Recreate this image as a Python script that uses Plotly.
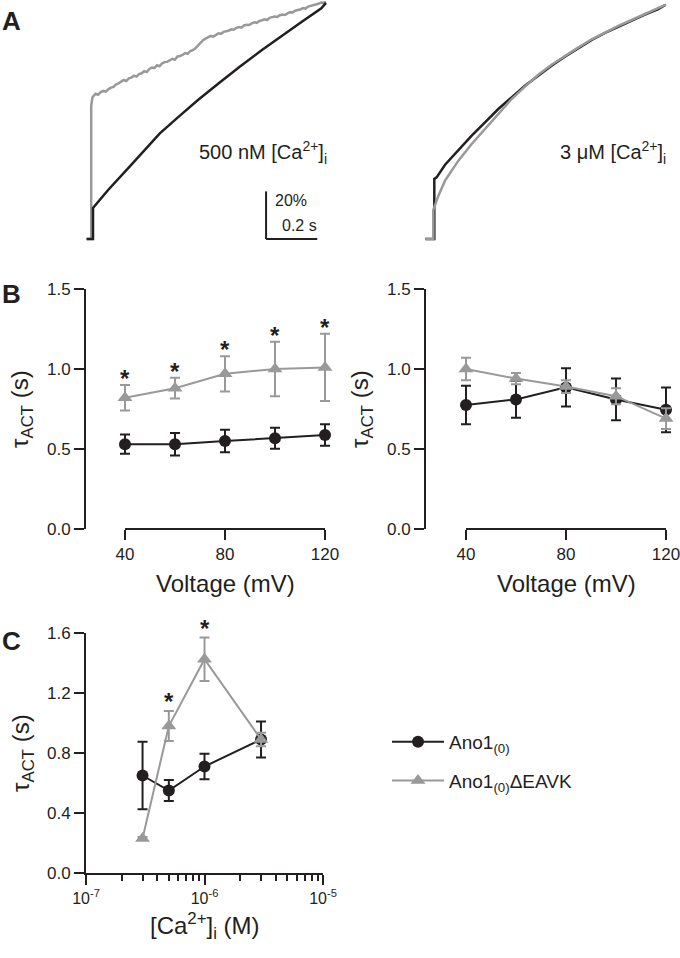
import math
import plotly.graph_objects as go

W, H = 680, 958
BLACK = "#231f20"
GRAY = "#999999"
FONT = "Arial, Liberation Sans, Helvetica, sans-serif"

# ---------------- Panel A: normalized current traces (time in s, current in %) -------------
a500_ano1_t = [-0.025, 0.0, 0.0, 0.059, 0.143, 0.20, 0.261, 0.335, 0.41, 0.49, 0.573,
               0.66, 0.749, 0.82, 0.892, 0.91]
a500_ano1_i = [0, 0, 13.0, 20.6, 30.4, 37.1, 44.4, 51.4, 58.4, 65.3, 72.4,
               79.4, 86.4, 91.6, 96.9, 99.2]

a500_eavk_t = [-0.025, -0.007, -0.007, -0.005, -0.002,
               0.00, 0.01, 0.02, 0.03, 0.04, 0.05, 0.06, 0.07, 0.08, 0.09,
               0.10, 0.11, 0.12, 0.13, 0.14, 0.15, 0.16, 0.17, 0.18, 0.19,
               0.20, 0.21, 0.22, 0.23, 0.24, 0.25, 0.26, 0.27, 0.28, 0.29,
               0.30, 0.31, 0.32, 0.33, 0.34, 0.35, 0.36, 0.37, 0.38, 0.39,
               0.40, 0.41, 0.42, 0.43, 0.44, 0.45, 0.46, 0.47, 0.48, 0.49,
               0.50, 0.51, 0.52, 0.53, 0.54, 0.55, 0.56, 0.57, 0.58, 0.59,
               0.60, 0.61, 0.62, 0.63, 0.64, 0.65, 0.66, 0.67, 0.68, 0.69,
               0.70, 0.71, 0.72, 0.73, 0.74, 0.75, 0.76, 0.77, 0.78, 0.79,
               0.80, 0.81, 0.82, 0.83, 0.84, 0.85, 0.86, 0.87, 0.88, 0.89, 0.90, 0.91]
a500_eavk_i = [0, 0, 56.0, 58.7, 59.5,
               59.8, 61.0, 60.6, 61.7, 62.2, 61.9, 62.9, 63.6, 63.9, 65.0,
               65.4, 66.0, 66.8, 66.4, 67.5, 67.8, 68.6, 68.2, 69.3, 69.6,
               70.5, 70.1, 71.4, 72.0, 71.8, 73.0, 72.6, 73.8, 74.3, 74.4,
               75.0, 75.7, 75.3, 76.7, 76.9, 77.3, 78.1, 77.8, 78.9, 79.3,
               80.1, 81.2, 82.6, 83.5, 84.2, 84.6, 85.3, 85.0, 85.9, 86.4,
               86.2, 87.0, 87.3, 87.5, 88.1, 87.9, 88.7, 89.0, 88.8, 89.7,
               90.0, 89.9, 90.6, 91.0, 90.8, 91.6, 91.9, 92.3, 92.0, 92.9,
               93.2, 93.5, 93.3, 94.0, 94.3, 94.1, 94.8, 95.3, 95.2, 95.9,
               96.2, 96.4, 97.0, 96.8, 97.6, 97.9, 98.0, 98.6, 98.8, 99.3, 99.2, 99.6]

a3_ano1_t = [-0.035, 0.0, 0.0, 0.009, 0.042, 0.094, 0.146, 0.198, 0.25, 0.302, 0.354, 0.406,
             0.458, 0.51, 0.563, 0.615, 0.667, 0.719, 0.771, 0.823, 0.875, 0.904]
a3_ano1_i = [0, 0, 25.2, 25.9, 31.2, 37.4, 43.4, 49.0, 54.6, 59.5, 64.4, 68.6,
             72.8, 76.6, 80.3, 83.6, 86.6, 89.2, 91.7, 94.3, 96.6, 98.4]
a3_eavk_t = [-0.035, -0.004, -0.004, 0.016, 0.042, 0.094, 0.146, 0.198, 0.25, 0.302, 0.354,
             0.406, 0.458, 0.51, 0.563, 0.615, 0.667, 0.719, 0.771, 0.823, 0.875, 0.904]
a3_eavk_i = [0, 0, 12.2, 18.2, 24.5, 32.9, 39.9, 46.2, 52.5, 58.8, 64.0,
             69.0, 73.2, 77.0, 80.5, 83.9, 86.8, 89.5, 92.0, 94.5, 96.8, 98.5]

scale_t, scale_i = 0.2, 20  # scale bar: 0.2 s, 20 %
scale_t0, scale_i0 = 0.676, 0.0

# ---------------- Panel B: tau_ACT vs voltage ----------------
voltage = [40, 60, 80, 100, 120]
b500_ano1 = [0.53, 0.53, 0.55, 0.567, 0.587]
b500_ano1_err = [0.06, 0.07, 0.07, 0.066, 0.067]
b500_eavk = [0.82, 0.88, 0.97, 1.0, 1.01]
b500_eavk_err = [0.08, 0.065, 0.11, 0.17, 0.21]
b500_sig = [True, True, True, True, True]

b3_ano1 = [0.775, 0.81, 0.885, 0.81, 0.745]
b3_ano1_err = [0.12, 0.115, 0.12, 0.13, 0.14]
b3_eavk = [1.0, 0.94, 0.89, 0.83, 0.69]
b3_eavk_err = [0.07, 0.035, 0.04, 0.05, 0.065]

# ---------------- Panel C: tau_ACT vs [Ca2+] ----------------
ca = [3e-7, 5e-7, 1e-6, 3e-6]
c_ano1 = [0.65, 0.55, 0.71, 0.89]
c_ano1_err = [0.225, 0.07, 0.085, 0.12]
c_eavk = [0.23, 0.98, 1.425, 0.89]
c_eavk_err = [0.01, 0.1, 0.145, 0.045]
c_sig = [False, True, True, False]

NAME_WT = "Ano1<sub>(0)</sub>"
NAME_MUT = "Ano1<sub>(0)</sub>ΔEAVK"


def px(p):
    return p / W


def py(p):
    return 1 - p / H


fig = go.Figure()

# Panel A traces
fig.add_trace(go.Scatter(x=a500_eavk_t, y=a500_eavk_i, mode="lines", line=dict(color=GRAY, width=2.5),
                         xaxis="x", yaxis="y", showlegend=False, hoverinfo="skip"))
fig.add_trace(go.Scatter(x=a500_ano1_t, y=a500_ano1_i, mode="lines", line=dict(color=BLACK, width=2.5),
                         xaxis="x", yaxis="y", showlegend=False, hoverinfo="skip"))
fig.add_trace(go.Scatter(x=a3_ano1_t, y=a3_ano1_i, mode="lines", line=dict(color=BLACK, width=2.5),
                         xaxis="x2", yaxis="y2", showlegend=False, hoverinfo="skip"))
fig.add_trace(go.Scatter(x=a3_eavk_t, y=a3_eavk_i, mode="lines", line=dict(color=GRAY, width=2.5),
                         xaxis="x2", yaxis="y2", showlegend=False, hoverinfo="skip"))


def series(x, y, err, color, symbol, xa, ya, name, legend):
    return go.Scatter(
        x=x, y=y, mode="lines+markers", name=name, showlegend=legend,
        line=dict(color=color, width=2),
        marker=dict(color=color, symbol=symbol, size=12 if symbol == "circle" else 13,
                    line=dict(width=0)),
        error_y=dict(type="data", array=err, visible=True, color=color, thickness=2, width=5),
        xaxis=xa, yaxis=ya, legendgroup=name,
    )


fig.add_trace(series(voltage, b500_ano1, b500_ano1_err, BLACK, "circle", "x3", "y3", NAME_WT, False))
fig.add_trace(series(voltage, b500_eavk, b500_eavk_err, GRAY, "triangle-up", "x3", "y3", NAME_MUT, False))
fig.add_trace(series(voltage, b3_ano1, b3_ano1_err, BLACK, "circle", "x4", "y4", NAME_WT, False))
fig.add_trace(series(voltage, b3_eavk, b3_eavk_err, GRAY, "triangle-up", "x4", "y4", NAME_MUT, False))
fig.add_trace(series(ca, c_ano1, c_ano1_err, BLACK, "circle", "x5", "y5", NAME_WT, True))
fig.add_trace(series(ca, c_eavk, c_eavk_err, GRAY, "triangle-up", "x5", "y5", NAME_MUT, True))

hidden = dict(visible=False, showgrid=False, zeroline=False, fixedrange=True)
tickfont = dict(family=FONT, size=17, color=BLACK)
common_y = dict(showline=True, linewidth=2, linecolor=BLACK, ticks="outside", ticklen=10, tickwidth=2,
                tickcolor=BLACK, showgrid=False, zeroline=False, tickfont=tickfont, tickformat=".1f",
                automargin=False, ticklabeloverflow="allow")
common_x = dict(ticks="outside", ticklen=10, tickwidth=2, tickcolor=BLACK, showgrid=False,
                zeroline=False, automargin=False, ticklabeloverflow="allow")

minor_vals = [m * 10.0 ** e for e in (-7, -6) for m in range(2, 10)]

fig.update_layout(
    width=W, height=H, margin=dict(l=0, r=0, t=0, b=0, pad=0, autoexpand=False),
    paper_bgcolor="white", plot_bgcolor="rgba(0,0,0,0)",
    font=dict(family=FONT, color=BLACK),
    xaxis=dict(domain=[px(80), px(332)], range=[-0.0508, 0.9336], anchor="y", **hidden),
    yaxis=dict(domain=[py(245), py(0)], range=[-2.52, 100.4], anchor="x", **hidden),
    xaxis2=dict(domain=[px(420), px(672)], range=[-0.0559, 0.9285], anchor="y2", **hidden),
    yaxis2=dict(domain=[py(245), py(0)], range=[-2.52, 100.4], anchor="x2", **hidden),
    xaxis3=dict(domain=[px(86), px(336)], range=[24.4, 124.4], anchor="y3", tickvals=[40, 80, 120],
                showline=False, tickfont=tickfont, **common_x),
    yaxis3=dict(domain=[py(529), py(289)], range=[0, 1.5], anchor="x3", tickvals=[0, 0.5, 1.0, 1.5], **common_y),
    xaxis4=dict(domain=[px(426), px(676)], range=[24, 124], anchor="y4", tickvals=[40, 80, 120],
                showline=False, tickfont=tickfont, **common_x),
    yaxis4=dict(domain=[py(529), py(289)], range=[0, 1.5], anchor="x4", tickvals=[0, 0.5, 1.0, 1.5], **common_y),
    xaxis5=dict(type="log", domain=[px(86), px(323)], range=[-7, -5], anchor="y5",
                tickvals=[1e-7, 1e-6, 1e-5],
                ticktext=["10<sup>-7</sup>", "10<sup>-6</sup>", "10<sup>-5</sup>"],
                showline=True, linewidth=2, linecolor=BLACK,
                minor=dict(tickmode="array", tickvals=minor_vals, ticks="outside", ticklen=6, tickwidth=2,
                           tickcolor=BLACK, showgrid=False),
                tickfont=dict(family=FONT, size=16, color=BLACK), **common_x),
    yaxis5=dict(domain=[py(873), py(633)], range=[0, 1.6], anchor="x5",
                tickvals=[0, 0.4, 0.8, 1.2, 1.6], **common_y),
    legend=dict(x=px(387), y=py(723), xanchor="left", yanchor="top", font=dict(family=FONT, size=19, color=BLACK),
                traceorder="grouped", tracegroupgap=11, bgcolor="rgba(0,0,0,0)", itemwidth=52),
)

shapes = []
# detached x-axis lines in panel B
for xa in ("x3", "x4"):
    shapes.append(dict(type="line", xref=xa, yref="paper", x0=voltage[0], x1=voltage[-1],
                       y0=py(529), y1=py(529), line=dict(color=BLACK, width=2)))
# scale bar in panel A
shapes.append(dict(type="line", xref="x", yref="y", x0=scale_t0, x1=scale_t0, y0=scale_i0,
                   y1=scale_i0 + scale_i, line=dict(color=BLACK, width=2)))
shapes.append(dict(type="line", xref="x", yref="y", x0=scale_t0, x1=scale_t0 + scale_t, y0=scale_i0,
                   y1=scale_i0, line=dict(color=BLACK, width=2)))
fig.update_layout(shapes=shapes)

ann = []


def text(x, y, t, size, xanchor="center", yanchor="middle", angle=0, xref="paper", yref="paper", yshift=0):
    ann.append(dict(x=x, y=y, text=t, showarrow=False, xref=xref, yref=yref, xanchor=xanchor,
                    yanchor=yanchor, textangle=angle, yshift=yshift,
                    font=dict(family=FONT, size=size, color=BLACK)))


# panel letters
text(px(0), py(21), "<b>A</b>", 26, xanchor="left")
text(px(0), py(294), "<b>B</b>", 26, xanchor="left")
text(px(0), py(641), "<b>C</b>", 26, xanchor="left")

# panel A labels
text(px(329), py(152), "500 nM [Ca<sup>2+</sup>]<sub>i</sub>", 20, xanchor="right")
text(px(668), py(152), "3 μM [Ca<sup>2+</sup>]<sub>i</sub>", 20, xanchor="right")
text(px(273), py(200), "20%", 16, xanchor="left")
text(px(319), py(225), "0.2 s", 16, xanchor="right")

# axis titles
ytitle = "τ<sub>ACT</sub> (s)"
text(px(22), py(409), ytitle, 24, angle=-90)
text(px(362), py(409), ytitle, 24, angle=-90)
text(px(22), py(753), ytitle, 24, angle=-90)
text(px(225), py(583), "Voltage (mV)", 24)
text(px(566), py(583), "Voltage (mV)", 24)
text(px(205), py(926), "[Ca<sup>2+</sup>]<sub>i</sub> (M)", 24)

# significance asterisks
for v, m, e, s in zip(voltage, b500_eavk, b500_eavk_err, b500_sig):
    if s:
        text(v, m + e, "<b>*</b>", 24, xref="x3", yref="y3", yanchor="bottom", yshift=-9)
for c, m, e, s in zip(ca, c_eavk, c_eavk_err, c_sig):
    if s:
        text(math.log10(c), m + e, "<b>*</b>", 24, xref="x5", yref="y5", yanchor="bottom", yshift=-6)

fig.update_layout(annotations=ann)
fig.write_html("out.html", config={"displayModeBar": False, "staticPlot": True},
               post_script="document.body.style.margin='0';document.body.style.overflow='hidden';")
